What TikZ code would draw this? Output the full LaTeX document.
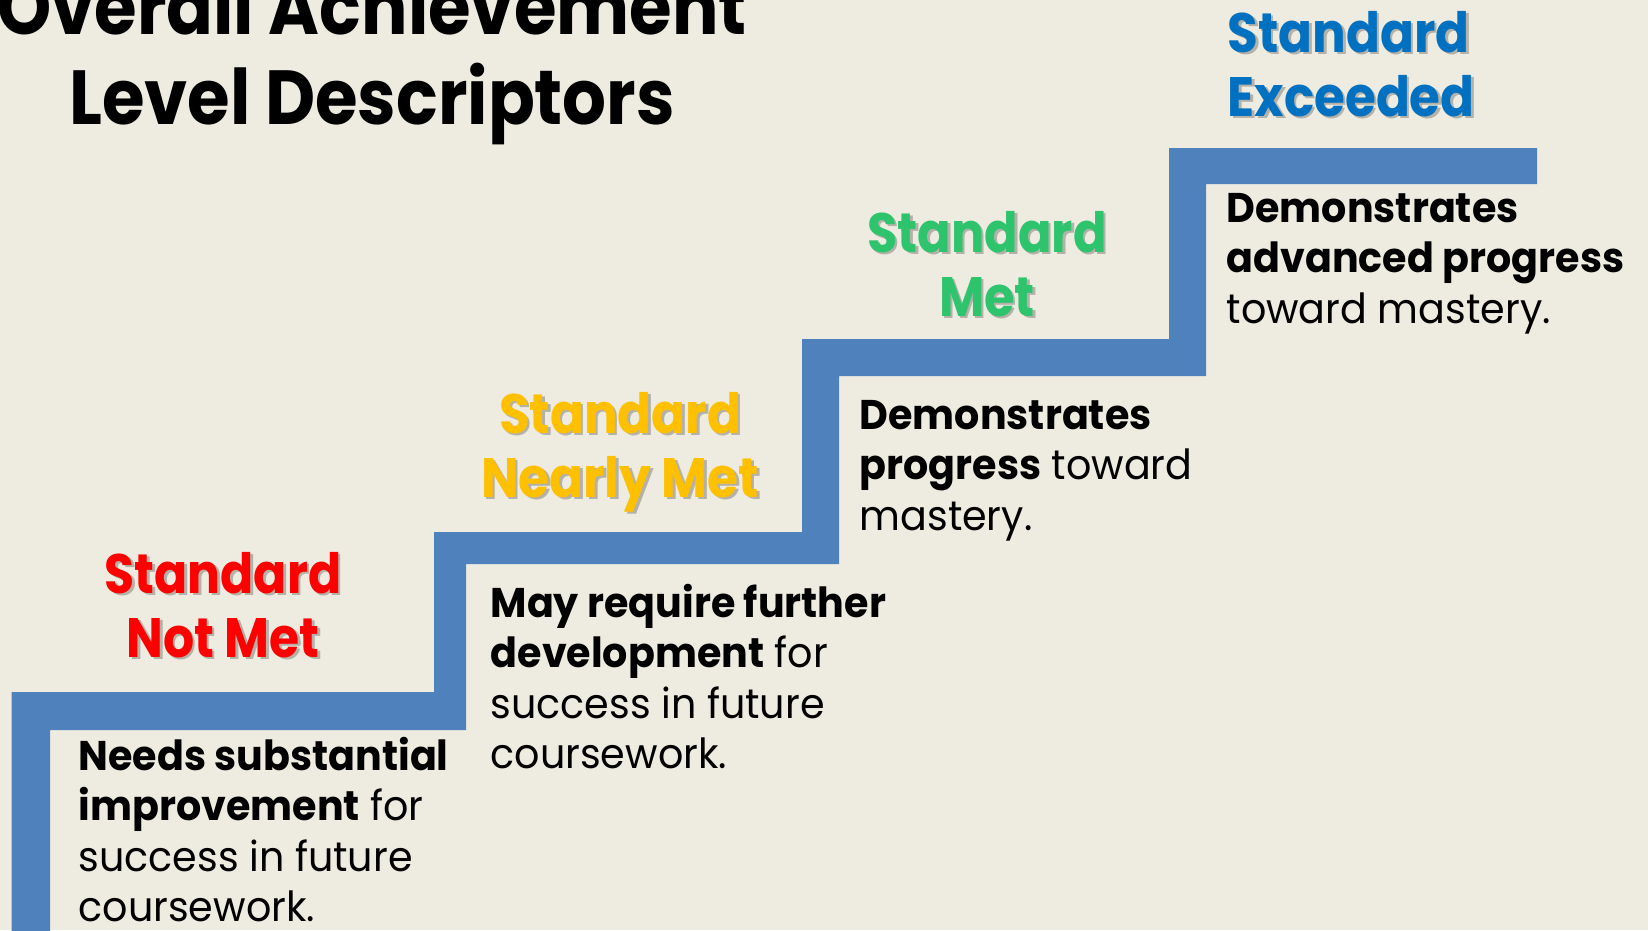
\documentclass[tikz,border=0pt]{standalone}
\usepackage{fontspec}
\setmainfont{Poppins}
\definecolor{bgtan}{HTML}{EEECE1}
\definecolor{stairblue}{HTML}{4F81BD}
\definecolor{lvred}{HTML}{FF0000}
\definecolor{lvyellow}{HTML}{FFC000}
\definecolor{lvgreen}{HTML}{2EC46E}
\definecolor{lvblue}{HTML}{0070C0}
\definecolor{shadowgray}{HTML}{9A9890}
\newcommand{\ctrlines}[2]{\scalebox{#1}[1]{\begin{tabular}[t]{@{}c@{}}#2\end{tabular}}}
\newcommand{\leftlines}[2]{\scalebox{#1}[1]{\begin{tabular}[t]{@{}l@{}}#2\end{tabular}}}
\begin{document}
\begin{tikzpicture}[x=0.01cm,y=-0.01cm,
  titletext/.style={anchor=base, inner sep=0pt, font=\fontsize{21.8}{25.6}\selectfont\bfseries},
  leveltext/.style={inner sep=0pt, font=\fontsize{15.8}{18.2}\selectfont\bfseries},
  shadowtext/.style={leveltext, text=shadowgray, opacity=0.7},
  desctext/.style={anchor=base west, inner sep=0pt, font=\fontsize{11.8}{14.4}\selectfont}]
\useasboundingbox (0,0) rectangle (1648,930);
\fill[bgtan] (0,0) rectangle (1648,930);
\clip (0,0) rectangle (1648,930);
% staircase
\fill[stairblue] (11.6,935) -- (11.6,692) -- (434,692) -- (434,532) -- (802,532) -- (802,339)
  -- (1169,339) -- (1169,148) -- (1537,148) -- (1537,184) -- (1206,184) -- (1206,376)
  -- (839,376) -- (839,564) -- (466,564) -- (466,730) -- (50,730) -- (50,935) -- cycle;
% title
\node[titletext] (title) at (372,34) {\ctrlines{0.9}{Overall Achievement\\Level Descriptors}};
% level labels (shadow + text)
\node[shadowtext, anchor=base] (notmetS) at (225.5,595.5) {\ctrlines{0.88}{Standard\\Not Met}};
\node[leveltext, anchor=base, text=lvred] (notmet) at (223,593) {\ctrlines{0.88}{Standard\\Not Met}};
\node[shadowtext, anchor=base] (nearlyS) at (622.5,435.5) {\ctrlines{0.9}{Standard\\Nearly Met}};
\node[leveltext, anchor=base, text=lvyellow] (nearly) at (620,433) {\ctrlines{0.9}{Standard\\Nearly Met}};
\node[shadowtext, anchor=base] (metS) at (989.5,254.5) {\ctrlines{0.89}{Standard\\Met}};
\node[leveltext, anchor=base, text=lvgreen] (met) at (987,252) {\ctrlines{0.89}{Standard\\Met}};
\node[shadowtext, anchor=base west] (exceededS) at (1229.5,54.5) {\leftlines{0.9}{Standard\\Exceeded}};
\node[leveltext, anchor=base west, text=lvblue] (exceeded) at (1227,52) {\leftlines{0.9}{Standard\\Exceeded}};
% descriptors
\node[desctext] (d1) at (78,770) {\leftlines{0.955}{\textbf{Needs substantial}\\\textbf{improvement} for\\success in future\\coursework.\\[-4pt]}};
\node[desctext] (d2) at (490,617) {\leftlines{0.955}{\textbf{May require further}\\\textbf{development} for\\success in future\\coursework.}};
\node[desctext] (d3) at (859,429) {\leftlines{0.955}{\textbf{Demonstrates}\\\textbf{progress} toward\\mastery.}};
\node[desctext] (d4) at (1226,222) {\leftlines{0.955}{\textbf{Demonstrates}\\\textbf{advanced progress}\\toward mastery.}};
\end{tikzpicture}
\end{document}
